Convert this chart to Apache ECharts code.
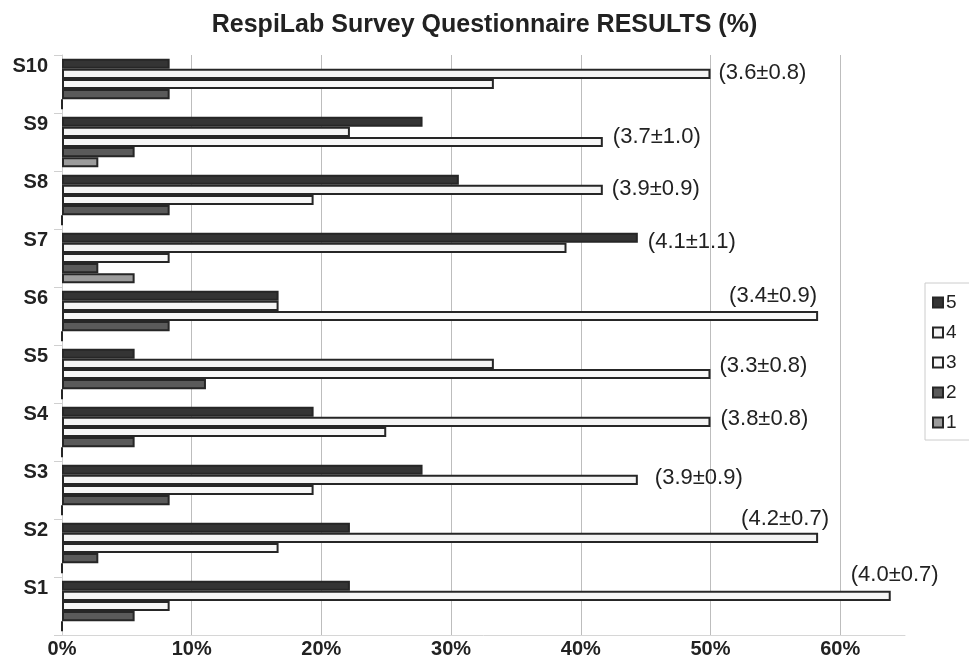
<!DOCTYPE html>
<html>
<head>
<meta charset="utf-8">
<script src="https://cdn.jsdelivr.net/npm/echarts@6/dist/echarts.min.js"></script>
<style>
html,body{margin:0;padding:0;background:#fff;}
#chart{width:969px;height:659px;}
</style>
</head>
<body>
<div id="chart"></div>
<script>
// ---- data ----
const categories = ['S1', 'S2', 'S3', 'S4', 'S5', 'S6', 'S7', 'S8', 'S9', 'S10'];
const r5 = [22.2, 22.2, 27.8, 19.4, 5.6, 16.7, 44.4, 30.6, 27.8, 8.3];
const r4 = [63.9, 58.3, 44.4, 50.0, 33.3, 16.7, 38.9, 41.7, 22.2, 50.0];
const r3 = [8.3, 16.7, 19.4, 25.0, 50.0, 58.3, 8.3, 19.4, 41.7, 33.3];
const r2 = [5.6, 2.8, 8.3, 5.6, 11.1, 8.3, 2.8, 8.3, 5.6, 8.3];
const r1 = [0, 0, 0, 0, 0, 0, 5.6, 0, 2.8, 0];
const stats = ['(4.0±0.7)', '(4.2±0.7)', '(3.9±0.9)', '(3.8±0.8)', '(3.3±0.8)',
               '(3.4±0.9)', '(4.1±1.1)', '(3.9±0.9)', '(3.7±1.0)', '(3.6±0.8)'];
const xTicks = [0, 10, 20, 30, 40, 50, 60];
const legendNames = ['5', '4', '3', '2', '1'];
const titleText = 'RespiLab Survey Questionnaire RESULTS (%)';

// ---- styling / placement ----
const FONT = "'Liberation Sans', Arial, Helvetica, sans-serif";
const seriesNames = ['5', '4', '3', '2', '1'];
const seriesValues = [r5, r4, r3, r2, r1];
const fills = { '5': '#343434', '4': '#f4f4f4', '3': '#f7f7f7', '2': '#5a5a5a', '1': '#9c9c9c' };
const labelSeries = ['4', '4', '4', '4', '3', '3', '5', '4', '3', '4'];
const labelOffsets = [[-40, -21], [-77, -19], [17, -2], [10, -3], [9, -8], [-89, -20], [10, 4], [9, -1], [10, -5], [8, -1]];

const series = seriesNames.map(function (name, si) {
  return {
    type: 'bar',
    name: name,
    barGap: '0%',
    barCategoryGap: '13%',
    itemStyle: { color: fills[name], borderColor: '#262626', borderWidth: 2 },
    emphasis: { disabled: true },
    data: seriesValues[si].map(function (v, i) {
      if (labelSeries[i] === name) {
        return {
          value: v,
          label: {
            show: true, position: 'right', distance: 0, offset: labelOffsets[i],
            formatter: stats[i], fontSize: 22, color: '#222', fontFamily: FONT
          }
        };
      }
      return v;
    })
  };
});

const chart = echarts.init(document.getElementById('chart'), null, { renderer: 'canvas' });
chart.setOption({
  animation: false,
  backgroundColor: '#ffffff',
  textStyle: { fontFamily: FONT },
  title: {
    text: titleText, left: 'center', top: 8,
    textStyle: { fontSize: 25, fontWeight: 'bold', color: '#222', fontFamily: FONT }
  },
  legend: {
    data: legendNames,
    orient: 'vertical',
    left: 925, top: 283,
    itemWidth: 10, itemHeight: 10, itemGap: 11,
    padding: [10, 14, 8, 7],
    borderColor: '#cccccc', borderWidth: 1,
    icon: 'rect',
    textStyle: { fontSize: 19, color: '#222', fontFamily: FONT, padding: [0, 0, 0, -2] },
    selectedMode: false
  },
  grid: { left: 62, right: 64, top: 55, bottom: 17, containLabel: false },
  xAxis: {
    type: 'value', min: 0, max: 65, interval: 10,
    axisLine: { show: true, lineStyle: { color: '#d6d6d6', width: 1 } },
    axisTick: { show: false },
    axisLabel: {
      margin: 4, fontSize: 20, fontWeight: 'bold', color: '#222', fontFamily: FONT,
      showMaxLabel: false,
      formatter: function (v) { return xTicks.indexOf(v) >= 0 ? v + '%' : ''; }
    },
    splitLine: { show: true, showMinLine: false, showMaxLine: false, lineStyle: { color: '#bdbdbd', width: 1 } }
  },
  yAxis: {
    type: 'category', data: categories,
    axisLine: { show: true, lineStyle: { color: '#cfcfcf', width: 1 } },
    axisTick: { show: true, length: 8, lineStyle: { color: '#d0d0d0' } },
    axisLabel: {
      margin: 14, fontSize: 20, fontWeight: 'bold', color: '#222', fontFamily: FONT,
      interval: 0, showMinLabel: true, showMaxLabel: true, hideOverlap: false,
      lineHeight: 36,
      formatter: function (v) { return v + '\n '; }
    },
    splitLine: { show: false }
  },
  series: series
});
</script>
</body>
</html>
